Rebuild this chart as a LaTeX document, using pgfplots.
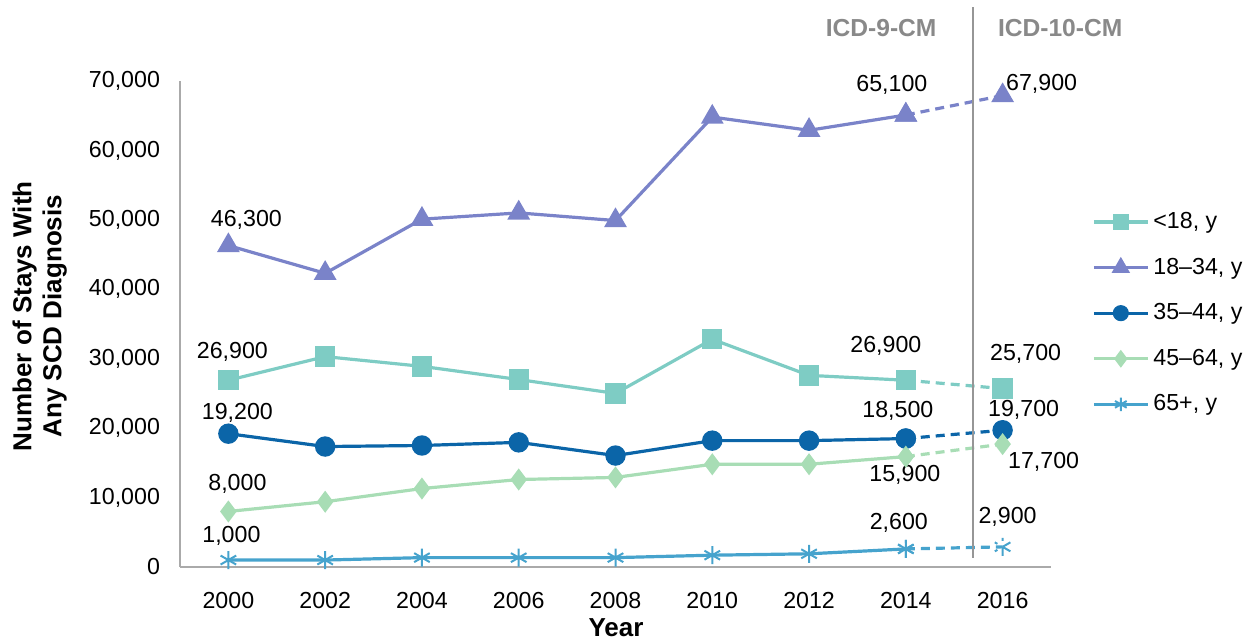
\documentclass[border=0pt]{standalone}
\usepackage{fontspec}
\setmainfont{Liberation Sans}
\usepackage{pgfplots}
\pgfplotsset{compat=1.18}

\definecolor{cUnder}{RGB}{126,204,196}
\definecolor{cYoung}{RGB}{122,131,201}
\definecolor{cMid}{RGB}{11,101,168}
\definecolor{cOld}{RGB}{168,221,181}
\definecolor{cSenior}{RGB}{70,163,205}
\definecolor{axisgray}{RGB}{170,170,170}
\definecolor{splitgray}{RGB}{150,150,150}
\definecolor{icdgray}{RGB}{137,137,137}

\newcommand{\lbl}{\fontsize{11.6}{13.9}\selectfont}
\newcommand{\ttl}{\bfseries\fontsize{13}{15}\selectfont}

\begin{document}
\begin{tikzpicture}
\useasboundingbox (0,0) rectangle (624pt,320.5pt);
\begin{axis}[
  at={(90pt,37pt)}, anchor=south west,
  scale only axis, width=435.5pt, height=243pt,
  xmin=1999, xmax=2017, ymin=0, ymax=70000,
  clip=false,
  axis lines*=left,
  axis line style={axisgray, line width=1pt, -},
  xtick={2000,2002,...,2016},
  ytick={0,10000,...,70000},
  major tick length=0pt,
  tick style={draw=none},
  scaled y ticks=false,
  /pgf/number format/assume math mode=true,
  ticklabel style={font=\lbl},
  xticklabel style={yshift=-9pt, /pgf/number format/1000 sep={}},
  yticklabel style={xshift=-6.5pt, /pgf/number format/1000 sep={,}},
  xlabel={Year},
  xlabel style={font=\ttl, at={(rel axis cs:0.5006,-0.125)}, anchor=center},
  ylabel={Number of Stays With\\Any SCD Diagnosis},
  ylabel style={font=\ttl, align=center, at={(rel axis cs:-0.161,0.516)}, anchor=center},
  legend cell align=left,
  legend style={draw=none, fill=none, font=\lbl,
    at={(rel axis cs:1.040,0.747)}, anchor=north west, row sep=9.2pt},
  legend image code/.code={
    \draw[mark repeat=2,mark phase=2,#1, every mark/.append style={scale=0.75}]
      plot coordinates {(0pt,0pt) (13.5pt,0pt) (27pt,0pt)};},
  every axis plot/.append style={line width=1.6pt, mark options={solid}},
]

% ICD-9-CM years, solid lines
\addplot[color=cUnder, mark=square*, mark size=4.3pt] coordinates {
  (2000,26900) (2002,30300) (2004,28900) (2006,27000) (2008,25000)
  (2010,32800) (2012,27600) (2014,26900)};
\addlegendentry{<18, y}

\addplot[color=cYoung, mark=triangle*, mark size=5pt] coordinates {
  (2000,46300) (2002,42300) (2004,50100) (2006,51000) (2008,49900)
  (2010,64800) (2012,62900) (2014,65100)};
\addlegendentry{18--34, y}

\addplot[color=cMid, mark=*, mark size=4.3pt] coordinates {
  (2000,19200) (2002,17350) (2004,17500) (2006,17950) (2008,16050)
  (2010,18200) (2012,18200) (2014,18500)};
\addlegendentry{35--44, y}

\addplot[color=cOld, mark=diamond*, mark size=4.2pt] coordinates {
  (2000,8000) (2002,9400) (2004,11300) (2006,12600) (2008,12900)
  (2010,14800) (2012,14800) (2014,15900)};
\addlegendentry{45--64, y}

\addplot[color=cSenior, mark=asterisk, mark size=4.5pt,
  mark options={line width=1pt}] coordinates {
  (2000,1000) (2002,1000) (2004,1350) (2006,1350) (2008,1350)
  (2010,1700) (2012,1900) (2014,2600)};
\addlegendentry{65+, y}

% ICD-10-CM year, dashed continuation
\addplot[forget plot, color=cUnder, dash pattern=on 4.5pt off 3pt,
  mark=square*, mark size=4.3pt] coordinates {(2014,26900) (2016,25700)};
\addplot[forget plot, color=cYoung, dash pattern=on 4.5pt off 3pt,
  mark=triangle*, mark size=5pt] coordinates {(2014,65100) (2016,67900)};
\addplot[forget plot, color=cMid, dash pattern=on 4.5pt off 3pt,
  mark=*, mark size=4.3pt] coordinates {(2014,18500) (2016,19700)};
\addplot[forget plot, color=cOld, dash pattern=on 4.5pt off 3pt,
  mark=diamond*, mark size=4.2pt] coordinates {(2014,15900) (2016,17700)};
\addplot[forget plot, color=cSenior, dash pattern=on 4.5pt off 3pt,
  mark=asterisk, mark size=4.5pt, mark options={line width=1pt}]
  coordinates {(2014,2600) (2016,2900)};

% coding-system split
\draw[splitgray, line width=1pt] (axis cs:2015.38,1300) -- (axis cs:2015.38,80700);
\node[font=\bfseries\fontsize{12.3}{14}\selectfont, text=icdgray]
  at (axis cs:2013.49,77700) {ICD-9-CM};
\node[font=\bfseries\fontsize{12.3}{14}\selectfont, text=icdgray]
  at (axis cs:2017.19,77700) {ICD-10-CM};

% value labels
\begin{scope}[every node/.style={font=\lbl, inner sep=0pt}]
\node[xshift=2pt, yshift=14pt] at (axis cs:2000,26900) {26,900};
\node[xshift=-10pt, yshift=17pt] at (axis cs:2014,26900) {26,900};
\node[xshift=11.5pt, yshift=17.5pt] at (axis cs:2016,25700) {25,700};
\node[xshift=9pt, yshift=13pt] at (axis cs:2000,46300) {46,300};
\node[xshift=-7pt, yshift=15pt] at (axis cs:2014,65100) {65,100};
\node[xshift=19.5pt, yshift=6pt] at (axis cs:2016,67900) {67,900};
\node[xshift=4.5pt, yshift=10.5pt] at (axis cs:2000,19200) {19,200};
\node[xshift=-4pt, yshift=14pt] at (axis cs:2014,18500) {18,500};
\node[xshift=10.5pt, yshift=10pt] at (axis cs:2016,19700) {19,700};
\node[xshift=4.5pt, yshift=14pt] at (axis cs:2000,8000) {8,000};
\node[xshift=-0.5pt, yshift=-9pt] at (axis cs:2014,15900) {15,900};
\node[xshift=20.5pt, yshift=-9pt] at (axis cs:2016,17700) {17,700};
\node[xshift=1.5pt, yshift=12pt] at (axis cs:2000,1000) {1,000};
\node[xshift=-3.5pt, yshift=13pt] at (axis cs:2014,2600) {2,600};
\node[xshift=2.5pt, yshift=15pt] at (axis cs:2016,2900) {2,900};
\end{scope}
\end{axis}
\end{tikzpicture}
\end{document}
